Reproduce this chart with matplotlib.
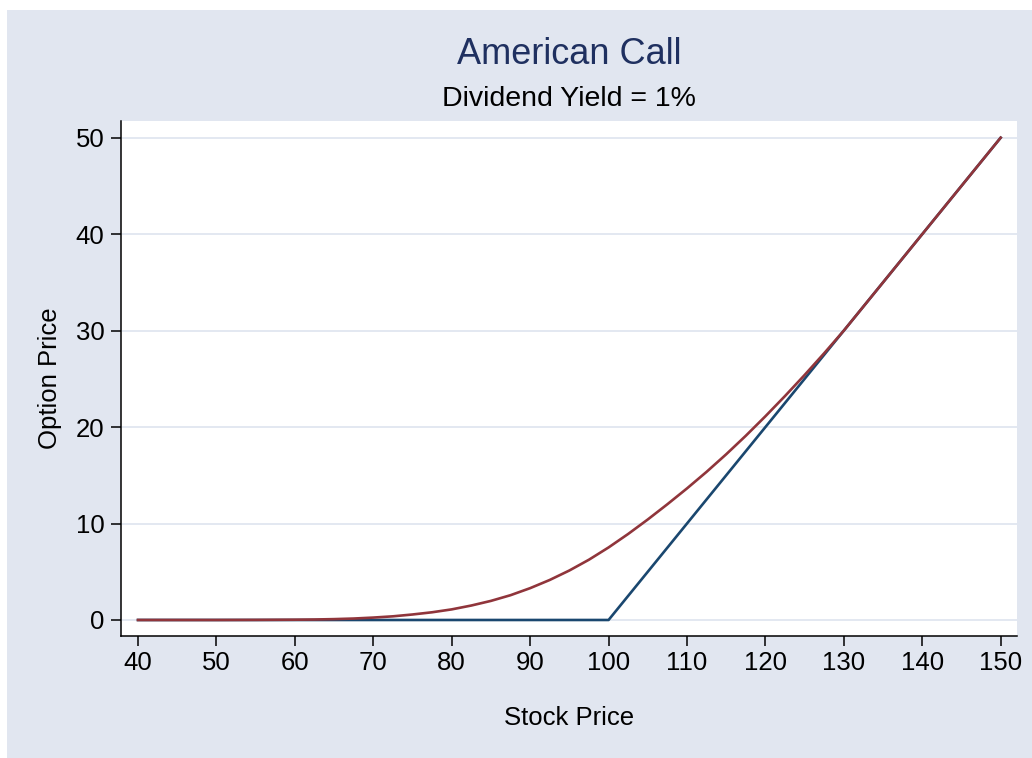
"""American call price vs stock price, Stata s2color look."""

import matplotlib
matplotlib.use("Agg")
import matplotlib.pyplot as plt
from matplotlib.patches import Rectangle

BG = "#e1e6f0"
GRID = "#e1e6f0"
NAVY = "#1a476f"
MAROON = "#90353b"
TITLE = "#1f3060"

plt.rcParams.update({
    "font.family": ["Liberation Sans", "DejaVu Sans"],
    "font.size": 18.5,
})

# stock price grid and option values
stock = [40, 45, 50, 55, 60, 62.5, 65, 67.5, 70, 72.5, 75, 77.5, 80, 82.5, 85, 87.5,
         90, 92.5, 95, 97.5, 100, 102.5, 105, 107.5, 110, 112.5, 115, 117.5, 120,
         122.5, 125, 127.5, 130, 140, 150]
american = [0.0, 0.0, 0.0, 0.01, 0.03, 0.05, 0.09, 0.15, 0.25, 0.38, 0.57, 0.80, 1.10,
            1.50, 1.98, 2.57, 3.30, 4.15, 5.13, 6.25, 7.52, 8.92, 10.42, 12.0, 13.64,
            15.36, 17.18, 19.1, 21.12, 23.22, 25.4, 27.66, 30.0, 40.0, 50.0]

# payoff (intrinsic value)
payoff_s = [40, 100, 150]
payoff_v = [0, 0, 50]

xticks = [40, 50, 60, 70, 80, 90, 100, 110, 120, 130, 140, 150]
yticks = [0, 10, 20, 30, 40, 50]

fig = plt.figure(figsize=(10.32, 7.58), dpi=100, facecolor="white")
fig.add_artist(Rectangle((7 / 1032, 0), 1 - 7 / 1032, 748 / 758,
                         transform=fig.transFigure, facecolor=BG,
                         edgecolor="none", zorder=-10))

ax = fig.add_axes([121 / 1032, 1 - 636 / 758, 896 / 1032, 515 / 758], zorder=1)
ax.set_facecolor("white")

ax.plot(payoff_s, payoff_v, color=NAVY, lw=1.9, zorder=3)
ax.plot(stock, american, color=MAROON, lw=1.9, zorder=4)

ax.set_xlim(37.83, 152.08)
ax.set_ylim(-1.66, 51.73)
ax.set_xticks(xticks)
ax.set_yticks(yticks)
ax.tick_params(axis="both", direction="out", length=7, width=1.1, color="black")
ax.tick_params(axis="x", pad=4)
ax.tick_params(axis="y", pad=5)
ax.grid(axis="y", color=GRID, lw=1.3)
ax.set_axisbelow(True)

for side in ("top", "right"):
    ax.spines[side].set_visible(False)
for side in ("left", "bottom"):
    ax.spines[side].set_linewidth(1.1)
    ax.spines[side].set_color("black")

ax.set_xlabel("Stock Price", labelpad=22)
ax.set_ylabel("Option Price", labelpad=10)

fig.text(569 / 1032, 1 - 55 / 758, "American Call", ha="center", va="center",
         fontsize=26, color=TITLE)
fig.text(569 / 1032, 1 - 99 / 758, "Dividend Yield = 1%", ha="center", va="center",
         fontsize=20.5, color="black")

fig.savefig("out.png", dpi=100, facecolor="white")
